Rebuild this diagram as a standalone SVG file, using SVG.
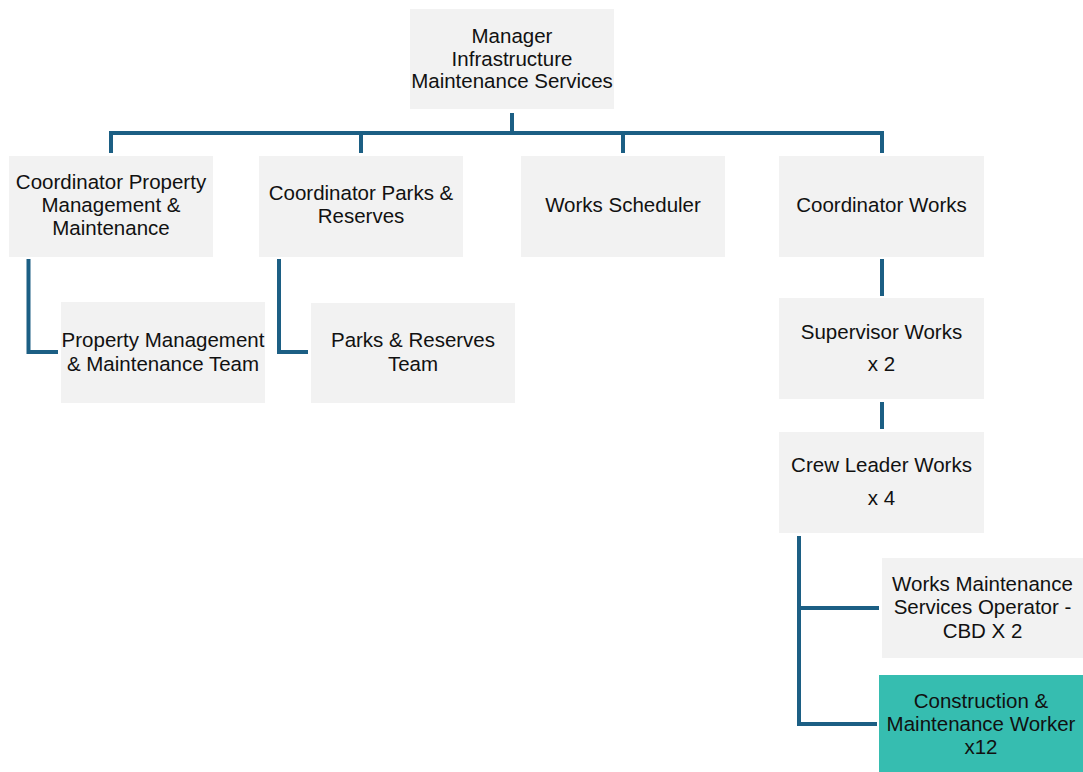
<svg xmlns="http://www.w3.org/2000/svg" width="1083" height="772" viewBox="0 0 1083 772">
  <style>
    .box { fill: #F2F2F2; }
    .box.hl { fill: #36BDB0; }
    .lbl { font-family: "Liberation Sans", Arial, sans-serif; font-size: 20.5px; fill: #111111; text-anchor: middle; }
    .wire { fill: none; stroke: #1C5F84; stroke-width: 4; stroke-linecap: butt; stroke-linejoin: miter; }
  </style>
  <rect width="1083" height="772" fill="#FFFFFF"/>

  <!-- reporting lines -->
  <g id="connectors">
    <path class="wire" d="M512,113 V133"/>
    <path class="wire" d="M111,153 V133 H882 V153"/>
    <path class="wire" d="M361,133 V153"/>
    <path class="wire" d="M623,133 V153"/>
    <path class="wire" d="M28.5,259 V352 H58"/>
    <path class="wire" d="M279,259 V352 H308"/>
    <path class="wire" d="M882,259 V296"/>
    <path class="wire" d="M882,402 V429"/>
    <path class="wire" d="M799,536 V724 H877"/>
    <path class="wire" d="M799,608 H879"/>
  </g>

  <g id="manager">
    <rect class="box" x="410" y="9" width="204" height="100"/>
    <text class="lbl" x="512" y="43">Manager</text>
    <text class="lbl" x="512" y="65.5">Infrastructure</text>
    <text class="lbl" x="512" y="88">Maintenance Services</text>
  </g>

  <g id="coord-property">
    <rect class="box" x="9" y="156" width="204" height="101"/>
    <text class="lbl" x="111" y="189">Coordinator Property</text>
    <text class="lbl" x="111" y="212">Management &amp;</text>
    <text class="lbl" x="111" y="235">Maintenance</text>
  </g>

  <g id="coord-parks">
    <rect class="box" x="259" y="156" width="204" height="101"/>
    <text class="lbl" x="361" y="200">Coordinator Parks &amp;</text>
    <text class="lbl" x="361" y="223">Reserves</text>
  </g>

  <g id="works-scheduler">
    <rect class="box" x="521" y="156" width="204" height="101"/>
    <text class="lbl" x="623" y="212">Works Scheduler</text>
  </g>

  <g id="coord-works">
    <rect class="box" x="779" y="156" width="205" height="101"/>
    <text class="lbl" x="881.5" y="212">Coordinator Works</text>
  </g>

  <g id="property-team">
    <rect class="box" x="61" y="302" width="204" height="101"/>
    <text class="lbl" x="163" y="347">Property Management</text>
    <text class="lbl" x="163" y="371">&amp; Maintenance Team</text>
  </g>

  <g id="parks-team">
    <rect class="box" x="311" y="303" width="204" height="100"/>
    <text class="lbl" x="413" y="347">Parks &amp; Reserves</text>
    <text class="lbl" x="413" y="371">Team</text>
  </g>

  <g id="supervisor-works">
    <rect class="box" x="779" y="298" width="205" height="101"/>
    <text class="lbl" x="881.5" y="339">Supervisor Works</text>
    <text class="lbl" x="881.5" y="371">x 2</text>
  </g>

  <g id="crew-leader">
    <rect class="box" x="779" y="432" width="205" height="101"/>
    <text class="lbl" x="881.5" y="472">Crew Leader Works</text>
    <text class="lbl" x="881.5" y="505">x 4</text>
  </g>

  <g id="operator-cbd">
    <rect class="box" x="882" y="558" width="201" height="100"/>
    <text class="lbl" x="982.5" y="591">Works Maintenance</text>
    <text class="lbl" x="982.5" y="614">Services Operator -</text>
    <text class="lbl" x="982.5" y="638">CBD X 2</text>
  </g>

  <g id="construction-worker">
    <rect class="box hl" x="879" y="675" width="204" height="97"/>
    <text class="lbl" x="981" y="708">Construction &amp;</text>
    <text class="lbl" x="981" y="731">Maintenance Worker</text>
    <text class="lbl" x="981" y="754">x12</text>
  </g>
</svg>
